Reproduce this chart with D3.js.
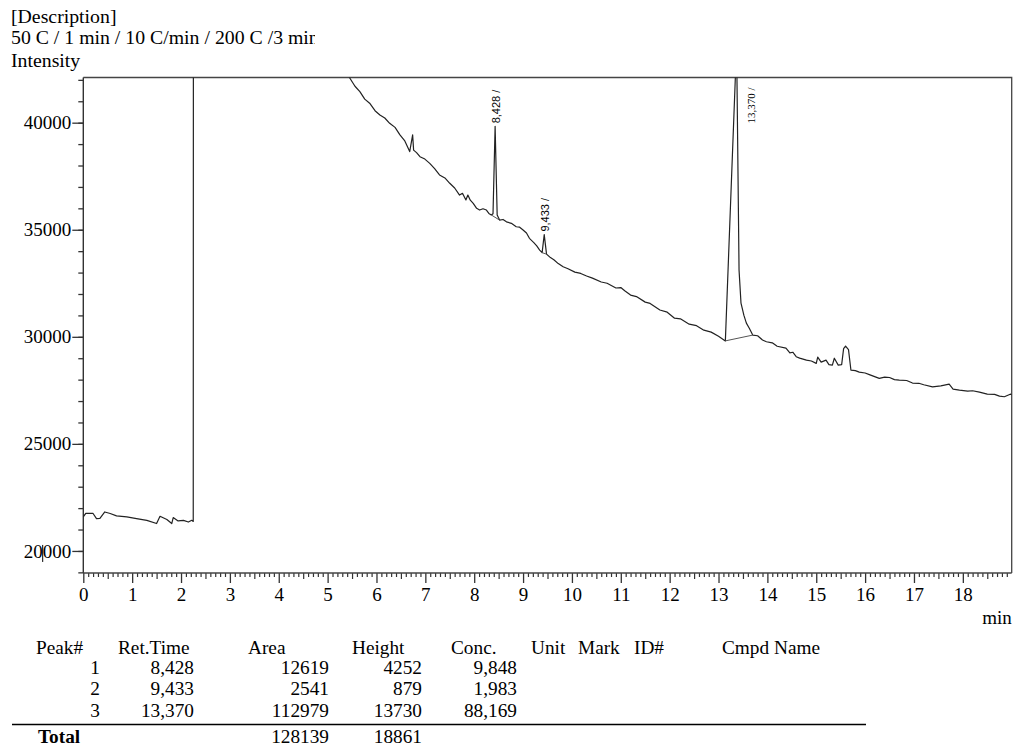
<!DOCTYPE html>
<html>
<head>
<meta charset="utf-8">
<script src="https://cdn.jsdelivr.net/npm/d3@7"></script>
<style>
  html, body { margin: 0; padding: 0; background: #fff; }
  svg { display: block; }
  text { font-family: "Liberation Serif", "Times New Roman", serif; fill: #000; }
</style>
</head>
<body>
<svg id="chart" width="1018" height="749"></svg>
<script>
// Chromatogram trace: retention time (min) and detector intensity
const retTime = [
  0, 0.05, 0.2, 0.27, 0.34, 0.44, 0.55, 0.68, 0.89, 1.09, 1.30, 1.50, 1.57, 1.71, 1.81, 1.84, 1.94, 2.05, 2.15, 2.22, 2.25,
  2.255, 5.2,
  5.45, 5.56, 5.66, 5.76, 5.86, 5.97, 6.07, 6.17, 6.27, 6.38, 6.48, 6.58, 6.68, 6.74, 6.76, 6.82, 6.89, 6.99, 7.09, 7.19, 7.29, 7.40, 7.50, 7.60, 7.70, 7.76, 7.83, 7.87, 7.92, 7.98, 8.05, 8.11, 8.18, 8.25, 8.30,
  8.35, 8.385, 8.428, 8.47, 8.52, 8.59, 8.66, 8.76, 8.86, 8.93, 9.00, 9.07, 9.13, 9.22, 9.28, 9.34, 9.39, 9.433, 9.48, 9.56, 9.63, 9.72, 9.82, 9.92, 10.06,
  10.18, 10.3, 10.42, 10.6, 10.72, 10.9, 11.0, 11.08, 11.2, 11.32, 11.5, 11.6, 11.8, 11.95, 12.1, 12.22, 12.4, 12.55, 12.7, 12.85, 13.0, 13.14,
  13.37, 13.42, 13.46, 13.52, 13.57, 13.63, 13.70, 13.80, 13.90, 13.98, 14.1, 14.2, 14.38, 14.46, 14.52, 14.59,
  14.66, 14.8, 14.9, 15.0, 15.03, 15.1, 15.2, 15.26, 15.33, 15.37, 15.45, 15.52, 15.56, 15.6, 15.66, 15.71, 15.8, 15.88,
  16.0, 16.1, 16.29, 16.4, 16.5, 16.6, 16.7, 16.85, 16.97, 17.1, 17.2, 17.38, 17.55, 17.72, 17.8, 17.93, 18.1, 18.2, 18.34, 18.5, 18.65, 18.75, 18.85, 18.97, 19.0
];
const signal = [
  21590, 21750, 21750, 21510, 21520, 21820, 21750, 21640, 21590, 21510, 21430, 21280, 21620, 21470, 21280, 21560, 21400, 21430, 21350, 21430, 21380,
  60000, 43000,
  42100, 41700, 41450, 41100, 40910, 40560, 40360, 40220, 39970, 39780, 39430, 39150, 38650, 39430, 38720, 38600, 38410, 38300, 38100, 37850, 37560, 37420, 37170, 36950, 36620, 36700, 36390, 36620, 36380, 36230, 36000, 35920, 35980, 35920, 35760,
  35690, 35750, 39830, 35690, 35450, 35480, 35370, 35300, 35140, 35120, 34990, 34850, 34600, 34400, 34250, 34050, 33930, 34775, 33860, 33700, 33600, 33420, 33270, 33180, 33020,
  32960, 32840, 32740, 32560, 32500, 32280, 32300, 32150, 31950, 31880, 31620, 31560, 31250, 31150, 30870, 30840, 30590, 30520, 30310, 30220, 30030, 29810,
  43650, 33120, 31570, 31000, 30640, 30400, 30080, 30050, 29850, 29770, 29720, 29560, 29470, 29250, 29280, 29070,
  29005, 28910, 28870, 28760, 29050, 28820, 28910, 28700, 28680, 29000, 28680, 28700, 29450, 29570, 29400, 28440, 28420, 28350,
  28310, 28220, 28060, 28120, 28100, 28000, 27980, 27960, 27840, 27830, 27760, 27660, 27710, 27790, 27560, 27510, 27460, 27480, 27420, 27320, 27310, 27230, 27200, 27320, 27300
];

// Integrated peaks
const peakNo = [1, 2, 3];
const peakRetTime = [8.428, 9.433, 13.370];
const peakRetLabel = ["8,428", "9,433", "13,370"];
const peakArea = [12619, 2541, 112979];
const peakHeight = [4252, 879, 13730];
const peakConc = ["9,848", "1,983", "88,169"];
const peakApex = [39830, 34775, 43650];
const baseStartT = [8.35, 9.39, 13.14];
const baseStartV = [35690, 33930, 29810];
const baseEndT = [8.52, 9.48, 13.70];
const baseEndV = [35450, 33860, 30080];
const totalArea = 128139;
const totalHeight = 18861;

// Axis ticks
const xMajorTicks = [0, 1, 2, 3, 4, 5, 6, 7, 8, 9, 10, 11, 12, 13, 14, 15, 16, 17, 18];
const yMajorTicks = [20000, 25000, 30000, 35000, 40000];

const headerLabels = ["Peak#", "Ret.Time", "Area", "Height", "Conc.", "Unit", "Mark", "ID#", "Cmpd Name"];

const svg = d3.select("#chart");
const plot = { left: 83.3, right: 1011.7, top: 77.5, bottom: 573 };

const x = d3.scaleLinear().domain([0, 19]).range([plot.left, plot.right]);
const y = d3.scaleLinear().domain([18970, 42110]).range([plot.bottom, plot.top]);

// Header lines
const header = svg.append("g").style("font-size", "19.8px");
header.append("text").attr("x", 11).attr("y", 23).text("[Description]");
svg.append("clipPath").attr("id", "methodClip")
  .append("rect").attr("x", 0).attr("y", 25).attr("width", 315).attr("height", 25);
header.append("text").attr("x", 11).attr("y", 44).attr("clip-path", "url(#methodClip)")
  .text("50 C / 1 min / 10 C/min / 200 C /3 min");
header.append("text").attr("x", 11).attr("y", 67).text("Intensity");

// Frame (top and right)
svg.append("path")
  .attr("d", `M${plot.left},${plot.top}H${plot.right}V${plot.bottom}`)
  .attr("fill", "none").attr("stroke", "#444").attr("stroke-width", 1.3);

// Y axis
const yMinor = d3.range(19000, 42001, 1000);
svg.append("g").attr("transform", `translate(${plot.left},0)`)
  .call(d3.axisLeft(y).tickValues(yMinor).tickSize(5).tickFormat(""))
  .call(g => g.select(".domain").remove())
  .selectAll("line").attr("stroke", "#333").attr("stroke-width", 1.3);
const yAx = svg.append("g").attr("transform", `translate(${plot.left},0)`)
  .call(d3.axisLeft(y).tickValues(yMajorTicks).tickSize(11).tickPadding(1).tickFormat(d3.format("d")));
yAx.select(".domain").remove();
yAx.selectAll("line").attr("stroke", "#333").attr("stroke-width", 1.3);
yAx.selectAll("text").style("font-family", "Liberation Serif, serif").style("font-size", "19px").attr("fill", "#111");
svg.append("line").attr("x1", plot.left).attr("x2", plot.left).attr("y1", plot.top).attr("y2", plot.bottom)
  .attr("stroke", "#333").attr("stroke-width", 1.4);
// caret mark across the 20000 label
svg.append("line").attr("x1", 42.7).attr("x2", 42.7).attr("y1", y(20000) - 6).attr("y2", y(20000) + 11)
  .attr("stroke", "#000").attr("stroke-width", 1);

// X axis
const xMinor = d3.range(0, 190).map(i => i / 10).filter(v => Math.abs(v * 2 - Math.round(v * 2)) > 1e-6);
const xHalf = d3.range(0, 38).map(i => i / 2 + 0.5).filter(v => v % 1 !== 0 && v < 19);
const xAxisY = plot.bottom;
svg.append("g").attr("transform", `translate(0,${xAxisY})`)
  .call(d3.axisBottom(x).tickValues(xMinor).tickSize(4).tickFormat(""))
  .call(g => g.select(".domain").remove())
  .selectAll("line").attr("stroke", "#333").attr("stroke-width", 1.2);
svg.append("g").attr("transform", `translate(0,${xAxisY})`)
  .call(d3.axisBottom(x).tickValues(xHalf).tickSize(6).tickFormat(""))
  .call(g => g.select(".domain").remove())
  .selectAll("line").attr("stroke", "#333").attr("stroke-width", 1.2);
const xAx = svg.append("g").attr("transform", `translate(0,${xAxisY})`)
  .call(d3.axisBottom(x).tickValues(xMajorTicks).tickSize(10).tickPadding(5).tickFormat(d3.format("d")));
xAx.select(".domain").remove();
xAx.selectAll("line").attr("stroke", "#333").attr("stroke-width", 1.3);
xAx.selectAll("text").style("font-family", "Liberation Serif, serif").style("font-size", "19px").attr("fill", "#111");
svg.append("line").attr("x1", plot.left).attr("x2", plot.right).attr("y1", xAxisY).attr("y2", xAxisY)
  .attr("stroke", "#444").attr("stroke-width", 1.4);
svg.append("text").attr("x", plot.right).attr("y", 624).attr("text-anchor", "end")
  .style("font-size", "19px").text("min");

// Trace
svg.append("clipPath").attr("id", "plotClip")
  .append("rect").attr("x", plot.left).attr("y", plot.top).attr("width", plot.right - plot.left).attr("height", plot.bottom - plot.top);
const pts = retTime.map((t, i) => [t, signal[i]]);
const line = d3.line().x(d => x(d[0])).y(d => y(d[1]));
const gPlot = svg.append("g").attr("clip-path", "url(#plotClip)");
gPlot.append("path").datum(pts).attr("d", line)
  .attr("fill", "none").attr("stroke", "#222").attr("stroke-width", 1.2).attr("stroke-linejoin", "round");

// Integration baselines
peakNo.forEach((p, i) => {
  gPlot.append("line")
    .attr("x1", x(baseStartT[i])).attr("y1", y(baseStartV[i]))
    .attr("x2", x(baseEndT[i])).attr("y2", y(baseEndV[i]))
    .attr("stroke", "#555").attr("stroke-width", 1);
});

// Peak labels
peakNo.forEach((p, i) => {
  const onScale = peakApex[i] < y.domain()[1];
  const lx = x(peakRetTime[i]) + (onScale ? 1 : 15);
  const ly = onScale ? y(peakApex[i]) - 3 : plot.top + 46;
  svg.append("text")
    .attr("transform", `translate(${lx},${ly}) rotate(-90)`)
    .attr("dy", "0.35em")
    .style("font-family", onScale ? "Liberation Sans, Arial, sans-serif" : "Liberation Serif, serif")
    .style("font-size", "11px")
    .text(peakRetLabel[i] + " /");
});

// Peak table
const table = svg.append("g").style("font-size", "19.3px");
const headerX = [36, 118, 248, 352, 451, 531, 578, 634, 722];
headerLabels.forEach((h, i) => {
  table.append("text").attr("x", headerX[i]).attr("y", 654).text(h);
});
const colRight = [100, 194, 329, 422, 517];
const rowY = [674, 695, 717];
peakNo.forEach((p, i) => {
  const cells = [p, peakRetLabel[i], peakArea[i], peakHeight[i], peakConc[i]];
  cells.forEach((c, j) => {
    table.append("text").attr("x", colRight[j]).attr("y", rowY[i]).attr("text-anchor", "end").text(c);
  });
});
table.append("line").attr("x1", 12).attr("x2", 866).attr("y1", 724.5).attr("y2", 724.5)
  .attr("stroke", "#000").attr("stroke-width", 1.3);
table.append("text").attr("x", 38).attr("y", 743).style("font-weight", "bold").text("Total");
table.append("text").attr("x", colRight[2]).attr("y", 743).attr("text-anchor", "end").text(totalArea);
table.append("text").attr("x", colRight[3]).attr("y", 743).attr("text-anchor", "end").text(totalHeight);
</script>
</body>
</html>
